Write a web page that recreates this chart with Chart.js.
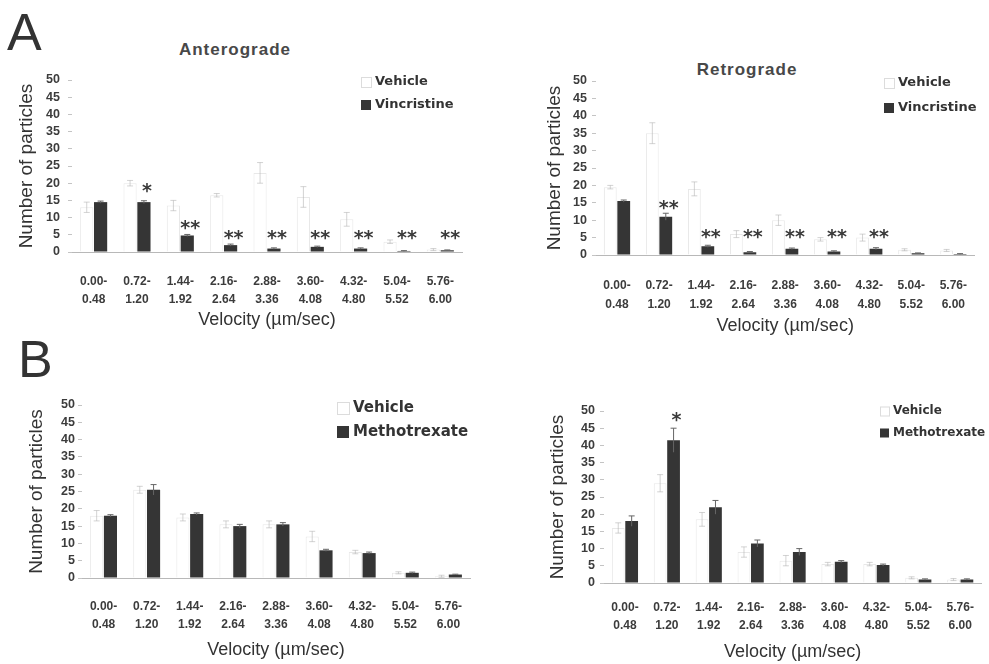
<!DOCTYPE html>
<html><head><meta charset="utf-8">
<script src="https://cdn.jsdelivr.net/npm/chart.js@4/dist/chart.umd.min.js"></script>
<style>
body{margin:0;background:#fff;width:989px;height:664px;position:relative;overflow:hidden;font-family:"Liberation Sans",Arial,sans-serif;}
.panel{position:absolute;}
.letter{position:absolute;font-size:52px;color:#333;line-height:1;}
.title{position:absolute;font-weight:bold;font-size:17px;color:#484848;letter-spacing:1px;transform:translate(-50%,-50%);white-space:nowrap;}
</style></head><body>
<div class="letter" style="left:7px;top:6px">A</div>
<div class="letter" style="left:18px;top:333px">B</div>
<div class="title" style="left:235px;top:50px">Anterograde</div>
<div class="title" style="left:747px;top:70px">Retrograde</div>
<canvas id="c1" class="panel" width="490" height="280" style="left:0;top:60px"></canvas>
<canvas id="c2" class="panel" width="494" height="280" style="left:495px;top:60px"></canvas>
<canvas id="c3" class="panel" width="490" height="279" style="left:0;top:385px"></canvas>
<canvas id="c4" class="panel" width="494" height="279" style="left:495px;top:385px"></canvas>
<script>
// ---- data ----
const binStarts = ['0.00-','0.72-','1.44-','2.16-','2.88-','3.60-','4.32-','5.04-','5.76-'];
const binEnds   = ['0.48','1.20','1.92','2.64','3.36','4.08','4.80','5.52','6.00'];
const yTicks = [0,5,10,15,20,25,30,35,40,45,50];

const antVehicle      = [13, 20, 13.5, 16.5, 23, 16, 9.5, 3, 0.7];
const antVehicleErr   = [1.5, 0.8, 1.5, 0.5, 3, 3, 2, 0.5, 0.3];
const antVincristine  = [14.5, 14.5, 4.8, 2, 1, 1.5, 1, 0.3, 0.5];
const antVincErr      = [0.3, 0.4, 0.3, 0.3, 0.2, 0.2, 0.2, 0.1, 0.1];
const antSig          = ['', '*', '**', '**', '**', '**', '**', '**', '**'];
const antSigY         = [0, 19, 8, 5.2, 5.2, 5.2, 5.2, 5.2, 5.2];

const retVehicle      = [19.5, 35, 19, 6, 10, 4.5, 5, 1.5, 1.3];
const retVehicleErr   = [0.5, 3, 2, 1, 1.5, 0.5, 1, 0.3, 0.3];
const retVincristine  = [15.5, 11, 2.5, 0.8, 1.8, 1, 1.8, 0.5, 0.3];
const retVincErr      = [0.3, 1, 0.3, 0.2, 0.2, 0.2, 0.3, 0.1, 0.1];
const retSig          = ['', '**', '**', '**', '**', '**', '**', '', ''];
const retSigY         = [0, 14.5, 6.3, 6.3, 6.3, 6.3, 6.3, 0, 0];

const mAntVehicle     = [18, 25.5, 17.5, 15.5, 15.5, 12, 7.5, 1.5, 0.5];
const mAntVehicleErr  = [1.5, 1, 1, 1, 1, 1.5, 0.5, 0.3, 0.3];
const mAntMtx         = [18, 25.5, 18.5, 15, 15.5, 8, 7.2, 1.5, 1];
const mAntMtxErr      = [0.3, 1.5, 0.3, 0.5, 0.5, 0.3, 0.3, 0.2, 0.1];

const mRetVehicle     = [16, 29, 18.5, 9, 6.5, 5.5, 5.5, 1.5, 1];
const mRetVehicleErr  = [1.5, 2.5, 2, 1.5, 1.5, 0.5, 0.5, 0.3, 0.3];
const mRetMtx         = [18, 41.5, 22, 11.5, 9, 6.2, 5.2, 1, 1];
const mRetMtxErr      = [1.5, 3.5, 2, 1, 1, 0.3, 0.3, 0.2, 0.2];
const mRetSig         = ['', '*', '', '', '', '', '', '', ''];
const mRetSigY        = [0, 48.5, 0, 0, 0, 0, 0, 0, 0];

const labels = binStarts.map((s,i)=>[s, binEnds[i]]);
const DARK = '#353535';

const overlay = {
  id:'overlay',
  afterDatasetsDraw(chart, args, o){
    const ctx = chart.ctx, ys = chart.scales.y;
    ctx.save();
    chart.data.datasets.forEach((ds,i)=>{
      const meta = chart.getDatasetMeta(i);
      const err = o.errors[i];
      ctx.strokeStyle = i===0 ? 'rgba(175,175,175,0.55)' : '#666';
      ctx.lineWidth = 1;
      meta.data.forEach((bar,j)=>{
        const v = ds.data[j], e = err[j];
        if(!e) return;
        const yt = ys.getPixelForValue(v+e), yb = ys.getPixelForValue(Math.max(0,v-e));
        ctx.beginPath();
        ctx.moveTo(bar.x, yt); ctx.lineTo(bar.x, yb);
        ctx.moveTo(bar.x-3, yt); ctx.lineTo(bar.x+3, yt);
        if(i===0){ctx.moveTo(bar.x-3, yb); ctx.lineTo(bar.x+3, yb);}
        ctx.stroke();
      });
    });
    if(o.sig){
      const meta = chart.getDatasetMeta(1);
      ctx.fillStyle = '#3a3a3a';
      ctx.font = 'bold 19px "DejaVu Sans"';
      ctx.textAlign = 'center'; ctx.textBaseline = 'middle';
      o.sig.forEach((s,j)=>{
        if(!s) return;
        ctx.fillText(s, meta.data[j].x + 3, ys.getPixelForValue(o.sigY[j]) + 5);
      });
    }
    // legend
    const L = o.legend;
    ctx.font = 'bold ' + L.size + 'px "DejaVu Sans"';
    ctx.textAlign = 'left'; ctx.textBaseline = 'middle';
    chart.data.datasets.forEach((ds,i)=>{
      const y = L.y[i];
      const s = L.size - 3;
      if(i===0){ ctx.strokeStyle='rgba(185,185,185,0.5)'; ctx.strokeRect(L.x - s - 4 + 0.5, y - s/2 + 0.5, s, s); }
      else { ctx.fillStyle = DARK; ctx.fillRect(L.x - s - 4, y - s/2, s, s); }
      ctx.fillStyle = '#333';
      ctx.fillText(ds.label, L.x, y);
    });
    ctx.restore();
  }
};

function makePanel(id, vehicle, drug, drugName, errV, errD, sig, sigY, g){
  new Chart(document.getElementById(id), {
    type:'bar',
    data:{ labels: labels, datasets:[
      {label:'Vehicle', data: vehicle, backgroundColor:'#ffffff', borderColor:'rgba(190,190,190,0.35)', borderWidth:1,
       categoryPercentage:0.64, barPercentage:0.95},
      {label: drugName, data: drug, backgroundColor: DARK, borderWidth:0,
       categoryPercentage:0.64, barPercentage:0.95}
    ]},
    options:{
      responsive:false, animation:false, devicePixelRatio:1,
      layout:{padding:{left:0, top:g.top, right:g.right, bottom:0}},
      plugins:{ legend:{display:false}, tooltip:{enabled:false},
        overlay:{errors:[errV, errD], sig: sig, sigY: sigY, legend: g.legend} },
      scales:{
        x:{
          offset:true,
          grid:{display:false, drawTicks:false},
          border:{display:true, color:'#b8b8b8', dash:[2,2], width:1},
          ticks:{color:'#3c3c3c', font:{family:'"Liberation Sans"', size:12, weight:'bold', lineHeight:g.xLH}, padding:g.xPad, maxRotation:0, autoSkip:false},
          title:{display:true, text:'Velocity (µm/sec)', color:'#333', font:{family:'"Liberation Sans"', size:18, lineHeight:1.2}, padding:{top:0, bottom:g.xTitlePad}},
          afterFit:(s)=>{ s.height = g.xH; }
        },
        y:{
          min:0, max:50,
          afterBuildTicks:(s)=>{ s.ticks = yTicks.map(v=>({value:v})); },
          grid:{display:true, drawOnChartArea:false, drawTicks:true, tickLength:4, color:'#c4c4c4'},
          border:{display:false},
          ticks:{color:'#3c3c3c', autoSkip:false, font:{family:'"Liberation Sans"', size:12.5, weight:'bold'}, padding:g.yPad},
          title:{display:true, text:'Number of particles', color:'#333', font:{family:'"Liberation Sans"', size:19, lineHeight:1.2}, padding:{top:g.yTitlePad, bottom:0}},
          afterFit:(s)=>{ s.width = g.yW; }
        }
      }
    },
    plugins:[overlay]
  });
}

makePanel('c1', antVehicle, antVincristine, 'Vincristine', antVehicleErr, antVincErr, antSig, antSigY,
  {top:20, right:28, yW:72, yPad:8, yTitlePad:15.6, xH:88, xPad:20.5, xLH:1.5, xTitlePad:9,
   legend:{x:375, y:[22,45], size:13}});
makePanel('c2', retVehicle, retVincristine, 'Vincristine', retVehicleErr, retVincErr, retSig, retSigY,
  {top:21, right:9, yW:101, yPad:5, yTitlePad:48.6, xH:85, xPad:21.5, xLH:1.55, xTitlePad:3.2,
   legend:{x:403, y:[23,48], size:13}});
makePanel('c3', mAntVehicle, mAntMtx, 'Methotrexate', mAntVehicleErr, mAntMtxErr, null, null,
  {top:20, right:20, yW:82, yPad:3, yTitlePad:25.6, xH:86, xPad:19, xLH:1.55, xTitlePad:3.2,
   legend:{x:353, y:[23,47], size:15}});
makePanel('c4', mRetVehicle, mRetMtx, 'Methotrexate', mRetVehicleErr, mRetMtxErr, mRetSig, mRetSigY,
  {top:26, right:2, yW:109, yPad:5, yTitlePad:51.6, xH:81, xPad:15, xLH:1.55, xTitlePad:1.2,
   legend:{x:398, y:[26,48], size:12}});
</script>
</body></html>
